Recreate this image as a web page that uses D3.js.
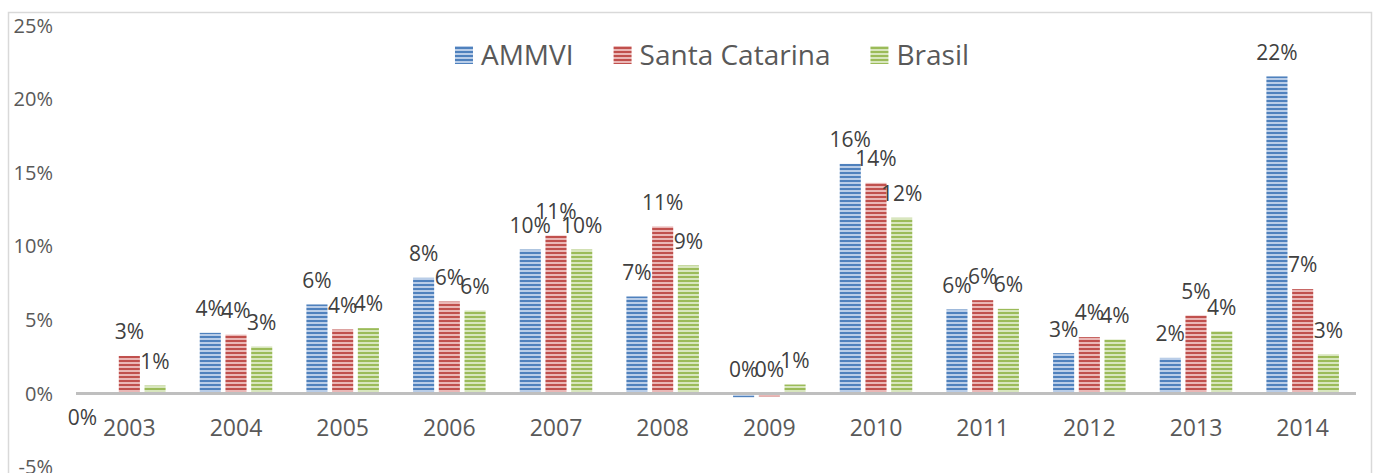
<!DOCTYPE html>
<html>
<head>
<meta charset="utf-8">
<script src="https://cdn.jsdelivr.net/npm/d3@7"></script>
<style>
  html, body { margin: 0; padding: 0; background: #fff; }
  svg { display: block; font-family: "Open Sans", "Noto Sans", sans-serif; }
</style>
</head>
<body>
<svg id="chart" width="1376" height="473"></svg>
<script>
// data, in percent
const years = ["2003", "2004", "2005", "2006", "2007", "2008", "2009", "2010", "2011", "2012", "2013", "2014"];
const seriesNames = ["AMMVI", "Santa Catarina", "Brasil"];
const ammvi = [0, 4.12, 6.05, 7.86, 9.78, 6.59, -0.25, 15.6, 5.71, 2.74, 2.42, 21.54];
const santaCatarina = [2.55, 4.0, 4.35, 6.25, 10.73, 11.35, -0.2, 14.31, 6.34, 3.83, 5.3, 7.09];
const brasil = [0.54, 3.2, 4.44, 5.64, 9.78, 8.7, 0.61, 11.94, 5.75, 3.67, 4.23, 2.67];
const yTicks = [-5, 0, 5, 10, 15, 20, 25];

const seriesValues = [ammvi, santaCatarina, brasil];
const darkColors = ["#4f81bd", "#c0504d", "#9bbb59"];
const lightColors = ["#b9cde8", "#eab7b6", "#d8e6be"];

const svg = d3.select("#chart");

// chart frame
svg.append("rect")
    .attr("x", 8.5).attr("y", 12.5)
    .attr("width", 1363).attr("height", 480)
    .attr("fill", "#fff")
    .attr("stroke", "#d9d9d9")
    .attr("stroke-width", 1.5);

// striped fills like the excel pattern
const defs = svg.append("defs");
seriesNames.forEach((name, i) => {
    const p = defs.append("pattern")
        .attr("id", "stripe" + i)
        .attr("patternUnits", "userSpaceOnUse")
        .attr("width", 8).attr("height", 4);
    p.append("rect").attr("width", 8).attr("height", 4).attr("fill", lightColors[i]);
    p.append("rect").attr("y", 0).attr("width", 8).attr("height", 2).attr("fill", darkColors[i]);
});

const x0 = d3.scaleBand()
    .domain(years)
    .range([76, 1356])
    .paddingInner(0.32)
    .paddingOuter(0.16);

const x1 = d3.scaleBand()
    .domain(seriesNames)
    .range([0, x0.bandwidth()])
    .paddingInner(0.18);

const y = d3.scaleLinear()
    .domain([-5, 25])
    .range([467.1, 25.5]);

// y tick labels
svg.append("g").selectAll("text")
    .data(yTicks)
    .enter().append("text")
    .attr("x", 53)
    .attr("y", d => y(d))
    .attr("dy", "0.35em")
    .attr("text-anchor", "end")
    .attr("font-size", 20)
    .attr("fill", "#595959")
    .text(d => d + "%");

// bars
const rows = years.map((yr, j) => seriesNames.map((s, i) => ({ year: yr, series: s, i: i, value: seriesValues[i][j] })));

const groups = svg.append("g").selectAll("g")
    .data(rows)
    .enter().append("g")
    .attr("transform", d => "translate(" + x0(d[0].year) + ",0)");

groups.selectAll("rect")
    .data(d => d)
    .enter().append("rect")
    .attr("x", d => x1(d.series))
    .attr("width", x1.bandwidth())
    .attr("y", d => y(Math.max(0, d.value)))
    .attr("height", d => Math.abs(y(d.value) - y(0)))
    .attr("fill", d => "url(#stripe" + d.i + ")");

// zero line
svg.append("line")
    .attr("x1", x0.range()[0]).attr("x2", x0.range()[1])
    .attr("y1", y(0)).attr("y2", y(0))
    .attr("stroke", "#bfbfbf")
    .attr("stroke-width", 3);

// data labels (a label of an empty value sits below the axis, left of the bar)
groups.selectAll("text")
    .data(d => d)
    .enter().append("text")
    .attr("x", d => d.value === 0 ? x1(d.series) + 4 : x1(d.series) + x1.bandwidth() / 2)
    .attr("y", d => d.value === 0 ? y(0) + 24 : y(Math.max(0, d.value)) - 24)
    .attr("dy", "0.35em")
    .attr("text-anchor", d => d.value === 0 ? "end" : "middle")
    .attr("font-size", 21)
    .attr("fill", "#404040")
    .text(d => Math.round(d.value) + 0 + "%");

// category labels
svg.append("g").selectAll("text")
    .data(years)
    .enter().append("text")
    .attr("x", d => x0(d) + x0.bandwidth() / 2)
    .attr("y", 428)
    .attr("dy", "0.35em")
    .attr("text-anchor", "middle")
    .attr("font-size", 23)
    .attr("fill", "#595959")
    .text(d => d);

// legend
const legend = svg.append("g");
let lx = 0;
seriesNames.forEach((name, i) => {
    const item = legend.append("g").attr("transform", "translate(" + lx + ",0)");
    item.append("rect")
        .attr("x", 0).attr("y", -9)
        .attr("width", 18).attr("height", 18)
        .attr("fill", "url(#stripe" + i + ")");
    const t = item.append("text")
        .attr("x", 26)
        .attr("dy", "0.35em")
        .attr("font-size", 28)
        .attr("fill", "#595959")
        .text(name);
    lx += 26 + t.node().getComputedTextLength() + 40;
});
const legendWidth = lx - 40;
legend.attr("transform", "translate(" + (712 - legendWidth / 2) + ",55)");
</script>
</body>
</html>
